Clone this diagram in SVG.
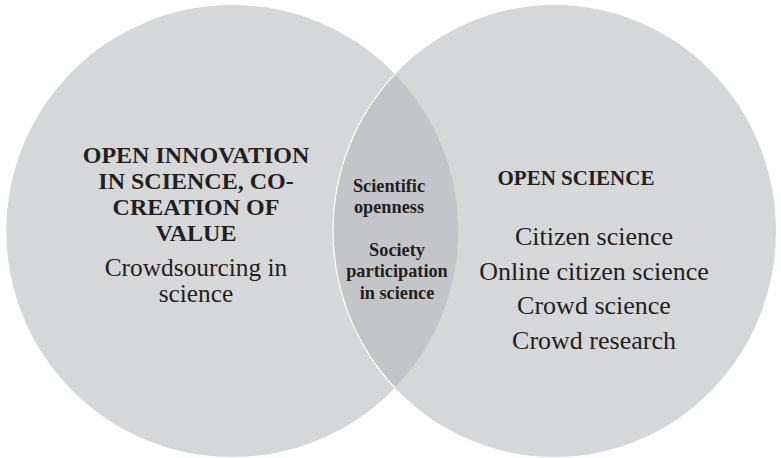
<svg xmlns="http://www.w3.org/2000/svg" width="781" height="458" viewBox="0 0 781 458">
<style>
.c{fill:#d6d7d9}
.lens{fill:#c4c5c8}
text{font-family:"Liberation Serif","Times New Roman",serif;fill:#231f20;text-anchor:middle}
.b{font-weight:bold}
.t{font-size:24px}
.t2{font-size:21px}
.r{font-size:26px}
.rl{font-size:25.4px}
.s{font-size:18.3px}
</style>
<defs>
<clipPath id="clipL"><circle cx="232.3" cy="231" r="226"/></clipPath>
</defs>
<g id="left-circle">
<circle class="c" cx="232.3" cy="231" r="226"/>
</g>
<g id="right-circle">
<ellipse class="c" cx="554.5" cy="231" rx="221.5" ry="226"/>
</g>
<g id="overlap">
<ellipse class="lens" cx="554.5" cy="231" rx="221.5" ry="226" clip-path="url(#clipL)"/>
<ellipse cx="554.5" cy="231" rx="221.5" ry="226" fill="none" stroke="#ffffff" stroke-width="1.2" clip-path="url(#clipL)"/>
</g>
<g id="left-text">
<text class="b t" x="196" y="163">OPEN INNOVATION</text>
<text class="b t" x="196" y="189">IN SCIENCE, CO-</text>
<text class="b t" x="196" y="215">CREATION OF</text>
<text class="b t" x="196" y="241">VALUE</text>
<text class="rl" x="196" y="276">Crowdsourcing in</text>
<text class="rl" x="196" y="302">science</text>
</g>
<g id="overlap-text">
<text class="b s" x="389" y="192">Scientific</text>
<text class="b s" x="389" y="213">openness</text>
<text class="b s" x="397" y="256">Society</text>
<text class="b s" x="397" y="277">participation</text>
<text class="b s" x="397" y="299">in science</text>
</g>
<g id="right-text">
<text class="b t2" x="576" y="185">OPEN SCIENCE</text>
<text class="r" x="594" y="245">Citizen science</text>
<text class="r" x="594" y="280">Online citizen science</text>
<text class="r" x="594" y="314">Crowd science</text>
<text class="r" x="594" y="349">Crowd research</text>
</g>
</svg>
